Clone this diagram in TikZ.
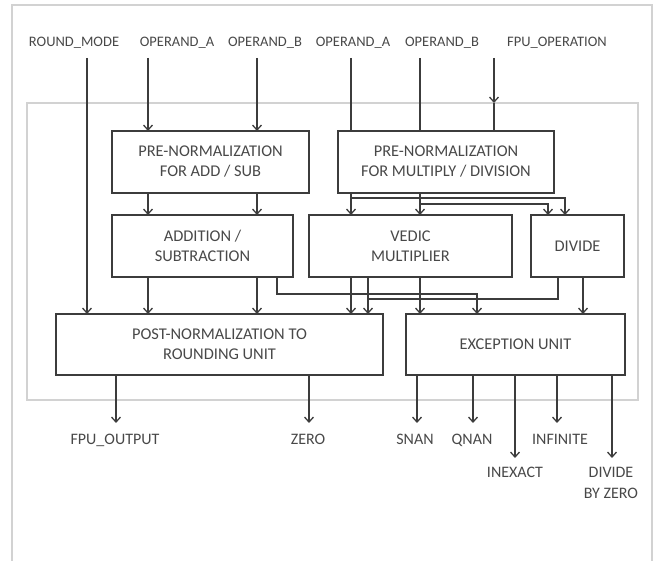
\documentclass[tikz,border=0pt]{standalone}
\usepackage{fontspec}
\setmainfont{Carlito}
\usetikzlibrary{positioning, arrows.meta}
\definecolor{wirec}{HTML}{3C3C3C}
\definecolor{txtc}{HTML}{484848}
\definecolor{frmc}{HTML}{D2D2D2}

\tikzset{
  unit/.style={draw=wirec, line width=1.4pt, outer sep=0pt, inner sep=2pt,
    align=center, text=txtc, font=\fontsize{16.4}{20}\selectfont},
  sig/.style={text=txtc, font=\fontsize{14.5}{21}\selectfont, inner sep=0pt,
    anchor=base, align=center},
  outsig/.style={sig, font=\fontsize{16}{21}\selectfont},
  link/.style={draw=wirec, line width=1.3pt},
  arr/.style={link, -{Straight Barb[length=5pt,width=9pt]}},
  frame/.style={draw=frmc, line width=1.5pt},
}

\begin{document}
\begin{tikzpicture}[x=1pt, y=-1pt]

  \useasboundingbox (0,0) rectangle (657,561);

  % ---- frames ----
  \draw[frame] (12,562) |- (652,5) -- (652,562);
  \node[frame, outer sep=0pt, minimum width=611, minimum height=297] (core) at (332.5,251.5) {};

  % ---- input signals ----
  \node[sig] (rmlbl) at (74,47) {ROUND\_MODE};
  \node[sig] (a1lbl) at (177,47) {OPERAND\_A};
  \node[sig] (b1lbl) at (265,47) {OPERAND\_B};
  \node[sig] (a2lbl) at (353,47) {OPERAND\_A};
  \node[sig] (b2lbl) at (442,47) {OPERAND\_B};
  \node[sig] (oplbl) at (557,47) {FPU\_OPERATION};

  \coordinate (iRM) at (87,58);
  \coordinate (iA1) at (148,58);
  \coordinate (iB1) at (257,58);
  \coordinate (iA2) at (351,58);
  \coordinate (iB2) at (420,58);
  \coordinate (iOp) at (494,58);

  % ---- blocks ----
  \node[unit, minimum width=197, minimum height=62] (preas) at (210.5,162)
    {PRE-NORMALIZATION\\FOR ADD / SUB};
  \node[unit, minimum width=216, minimum height=62] (premd) at (446,162)
    {PRE-NORMALIZATION\\FOR MULTIPLY / DIVISION};
  \node[unit, minimum width=181, minimum height=62] (addsub) at (202.5,246)
    {ADDITION /\\SUBTRACTION};
  \node[unit, minimum width=203, minimum height=62] (vedic) at (410.5,246)
    {VEDIC\\MULTIPLIER};
  \node[unit, minimum width=93, minimum height=62] (divide) at (577.5,246)
    {DIVIDE};
  \node[unit, minimum width=327, minimum height=61] (post) at (219.5,344.5)
    {POST-NORMALIZATION TO\\ROUNDING UNIT};
  \node[unit, minimum width=219, minimum height=61] (except) at (515.5,344.5)
    {EXCEPTION UNIT};

  % ---- inputs into the blocks ----
  \draw[arr] (iRM) -- (iRM |- post.north);
  \draw[arr] (iA1) -- (iA1 |- preas.north);
  \draw[arr] (iB1) -- (iB1 |- preas.north);
  \draw[link] (iA2) -- (iA2 |- premd.north);
  \draw[link] (iB2) -- (iB2 |- premd.north);
  \draw[arr] (iOp) -- (iOp |- core.north);
  \draw[link] (iOp |- core.north) -- (iOp |- premd.north);

  % pre-normalization -> arithmetic units
  \draw[arr] (iA1 |- preas.south) -- (iA1 |- addsub.north);
  \draw[arr] (iB1 |- preas.south) -- (iB1 |- addsub.north);
  \draw[arr] (iA2 |- premd.south) -- (iA2 |- vedic.north);
  \draw[arr] (iB2 |- premd.south) -- (iB2 |- vedic.north);
  \draw[arr] (iA2 |- premd.south) -- ++(0,5) -| ([xshift=-12.5]divide.north);
  \draw[arr] (iB2 |- premd.south) -- ++(0,11) -| ([xshift=-29.5]divide.north);

  % arithmetic units -> post-normalization / exception
  \coordinate (as1) at ([xshift=-16]addsub.south east);
  \coordinate (vm2) at ([xshift=59]vedic.south west);
  \coordinate (dv1) at ([xshift=27]divide.south west);
  \coordinate (dv2) at ([xshift=52]divide.south west);

  \draw[arr] (iA1 |- addsub.south) -- (iA1 |- post.north);
  \draw[arr] (iB1 |- addsub.south) -- (iB1 |- post.north);
  \draw[arr] (as1) -- ++(0,17) -| ([xshift=71]except.north west);
  \draw[arr] (iA2 |- vedic.south) -- (iA2 |- post.north);
  \draw[arr] (vm2) -- (vm2 |- post.north);
  \draw[arr] (iB2 |- vedic.south) -- (iB2 |- except.north);
  \draw[link] (dv1) -- ++(0,22) coordinate (dvj) -- (dvj -| vm2);
  \draw[arr] (dv2) -- (dv2 |- except.north);

  % ---- outputs ----
  \coordinate (oFPU) at (116,423);
  \coordinate (oZero) at (309,423);
  \coordinate (oSnan) at (417,423);
  \coordinate (oQnan) at (473,423);
  \coordinate (oInex) at (515,458);
  \coordinate (oInf) at (557,423);
  \coordinate (oDbz) at (612,458);

  \draw[arr] (oFPU |- post.south) -- (oFPU);
  \draw[arr] (oZero |- post.south) -- (oZero);
  \draw[arr] (oSnan |- except.south) -- (oSnan);
  \draw[arr] (oQnan |- except.south) -- (oQnan);
  \draw[arr] (oInex |- except.south) -- (oInex);
  \draw[arr] (oInf |- except.south) -- (oInf);
  \draw[arr] (oDbz |- except.south) -- (oDbz);

  \node[outsig] (fpuout) at (115,445) {FPU\_OUTPUT};
  \node[outsig] (zero) at (308,445) {ZERO};
  \node[outsig] (snan) at (415,445) {SNAN};
  \node[outsig] (qnan) at (472,445) {QNAN};
  \node[outsig] (infin) at (560,445) {INFINITE};
  \node[outsig] (inex) at (515,477.5) {INEXACT};
  \node[outsig] (dbz) at (611,498.5) {DIVIDE\\BY ZERO};

\end{tikzpicture}
\end{document}
